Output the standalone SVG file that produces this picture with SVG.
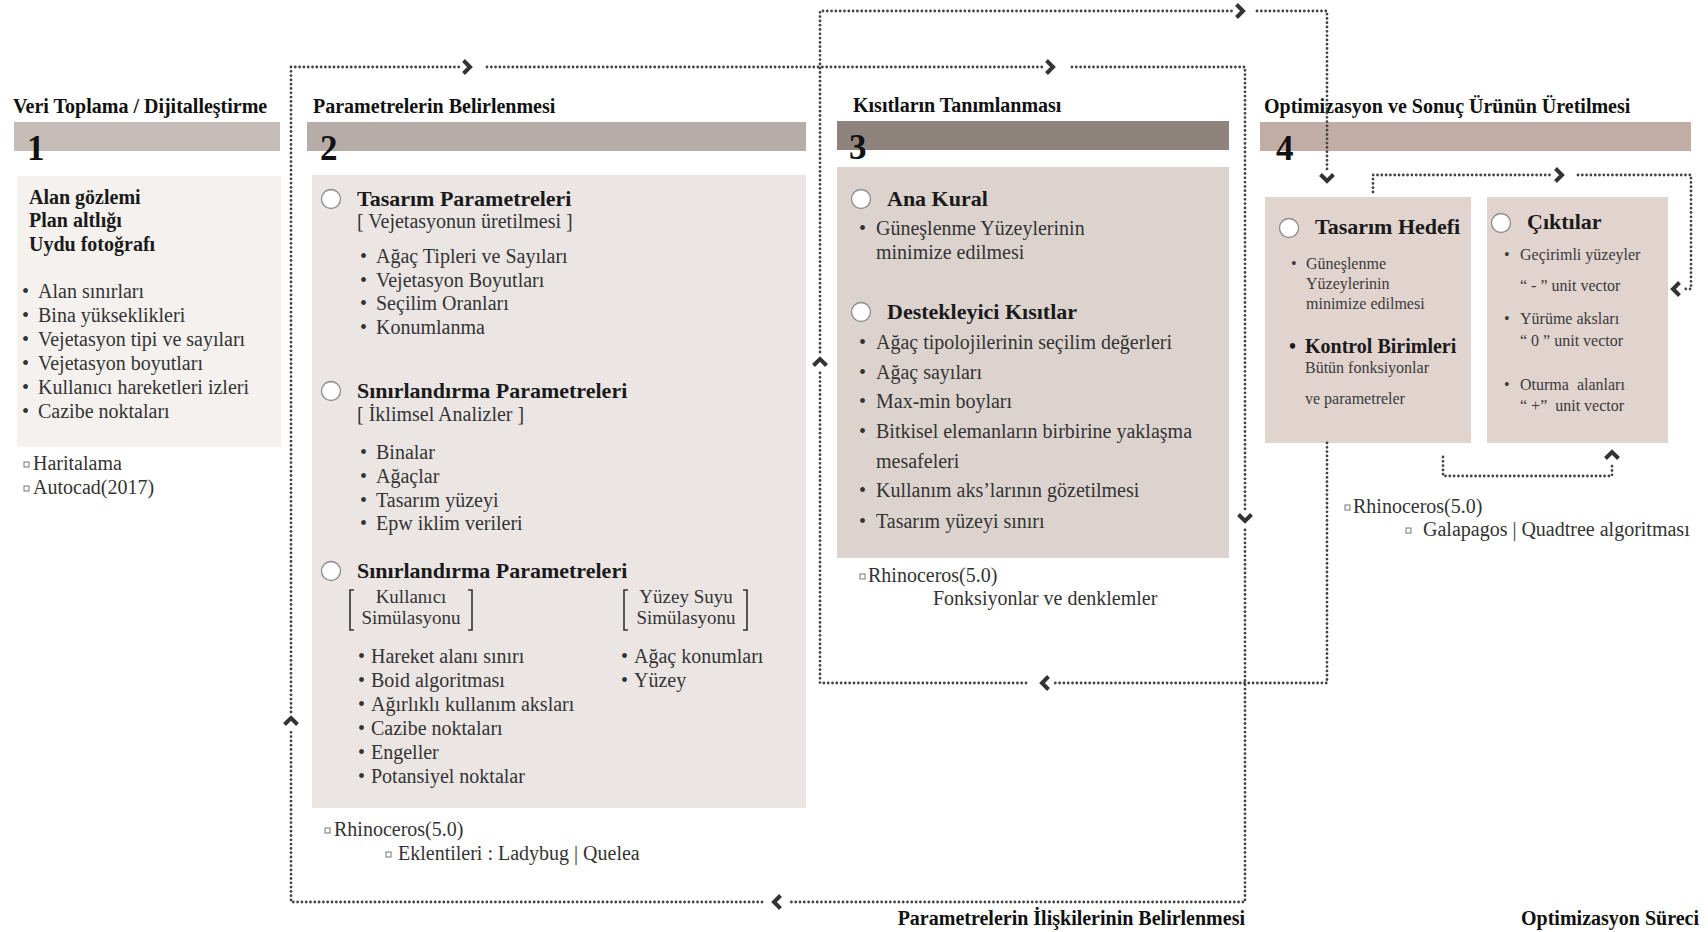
<svg xmlns="http://www.w3.org/2000/svg" xmlns:xlink="http://www.w3.org/1999/xlink" width="1708" height="932" viewBox="0 0 1708 932">
  <style>
    text { font-family: "Liberation Serif", "Times New Roman", serif; fill: #333; }
    .stage { font-size: 20px; font-weight: bold; fill: #111; }
    .num { font-size: 35px; font-weight: bold; fill: #111; }
    .head { font-size: 22px; font-weight: bold; fill: #1a1a1a; }
    .b20 { font-size: 20px; font-weight: bold; fill: #1a1a1a; }
    .t20 { font-size: 20px; }
    .t19 { font-size: 19px; }
    .t16 { font-size: 16px; fill: #3a3a3a; }
    .pre { white-space: pre; }
    .mid { text-anchor: middle; }
    .dot { fill: none; stroke: #444; stroke-width: 2.8; stroke-dasharray: 0 4.3; stroke-linecap: round; stroke-linejoin: round; }
    .chev { fill: none; stroke: #333; stroke-width: 4; stroke-linecap: butt; stroke-linejoin: miter; }
    .ring { fill: #fff; stroke: #8c8c8c; stroke-width: 1.3; }
    .sq { fill: #fff; stroke: #777; stroke-width: 1; }
    .brk { fill: none; stroke: #333; stroke-width: 1.6; }
  </style>
  <defs>
    <!-- chevron arrowhead, tip at the origin, pointing along +x -->
    <path id="chev" class="chev" d="M-6.5,-6.5 L0,0 L-6.5,6.5"/>
  </defs>

  <rect width="1708" height="932" fill="#fff"/>

  <!-- Stage 1 -->
  <g id="stage1">
    <text class="stage" x="13" y="113">Veri Toplama / Dijitalleştirme</text>
    <rect x="14" y="122" width="266" height="29" fill="#c6bcb8"/>
    <text class="num" x="27" y="160">1</text>
    <rect x="17" y="176" width="264" height="271" fill="#f4f1ef"/>
    <text class="b20" x="29" y="204">Alan gözlemi</text>
    <text class="b20" x="29" y="227">Plan altlığı</text>
    <text class="b20" x="29" y="251">Uydu fotoğrafı</text>
    <text class="t20" x="22" y="298">•</text><text class="t20" x="38" y="298">Alan sınırları</text>
    <text class="t20" x="22" y="322">•</text><text class="t20" x="38" y="322">Bina yükseklikleri</text>
    <text class="t20" x="22" y="346">•</text><text class="t20" x="38" y="346">Vejetasyon tipi ve sayıları</text>
    <text class="t20" x="22" y="370">•</text><text class="t20" x="38" y="370">Vejetasyon boyutları</text>
    <text class="t20" x="22" y="394">•</text><text class="t20" x="38" y="394">Kullanıcı hareketleri izleri</text>
    <text class="t20" x="22" y="418">•</text><text class="t20" x="38" y="418">Cazibe noktaları</text>
    <rect class="sq" x="24" y="462" width="5" height="5"/>
    <text class="t20" x="33" y="470">Haritalama</text>
    <rect class="sq" x="24" y="486" width="5" height="5"/>
    <text class="t20" x="33" y="494">Autocad(2017)</text>
  </g>

  <!-- Stage 2 -->
  <g id="stage2">
    <text class="stage" x="313" y="113">Parametrelerin Belirlenmesi</text>
    <rect x="307" y="122" width="499" height="29" fill="#b6ada8"/>
    <text class="num" x="320" y="160">2</text>
    <rect x="312" y="175" width="494" height="633" fill="#ebe6e4"/>

    <circle class="ring" cx="331" cy="199" r="9.5"/>
    <text class="head" x="357" y="206">Tasarım Parametreleri</text>
    <text class="t20" x="357" y="228">[ Vejetasyonun üretilmesi ]</text>
    <text class="t20" x="360" y="263">•</text><text class="t20" x="376" y="263">Ağaç Tipleri ve Sayıları</text>
    <text class="t20" x="360" y="287">•</text><text class="t20" x="376" y="287">Vejetasyon Boyutları</text>
    <text class="t20" x="360" y="310">•</text><text class="t20" x="376" y="310">Seçilim Oranları</text>
    <text class="t20" x="360" y="334">•</text><text class="t20" x="376" y="334">Konumlanma</text>

    <circle class="ring" cx="331" cy="391" r="9.5"/>
    <text class="head" x="357" y="398">Sınırlandırma Parametreleri</text>
    <text class="t20" x="357" y="421">[ İklimsel Analizler ]</text>
    <text class="t20" x="360" y="459">•</text><text class="t20" x="376" y="459">Binalar</text>
    <text class="t20" x="360" y="483">•</text><text class="t20" x="376" y="483">Ağaçlar</text>
    <text class="t20" x="360" y="507">•</text><text class="t20" x="376" y="507">Tasarım yüzeyi</text>
    <text class="t20" x="360" y="530">•</text><text class="t20" x="376" y="530">Epw iklim verileri</text>

    <circle class="ring" cx="331" cy="571" r="9.5"/>
    <text class="head" x="357" y="578">Sınırlandırma Parametreleri</text>
    <path class="brk" d="M354,590 H350 V630 H354 M468,590 H472 V630 H468"/>
    <text class="t19 mid" x="411" y="603">Kullanıcı</text>
    <text class="t19 mid" x="411" y="624">Simülasyonu</text>
    <path class="brk" d="M628,590 H624 V630 H628 M743,590 H747 V630 H743"/>
    <text class="t19 mid" x="686" y="603">Yüzey Suyu</text>
    <text class="t19 mid" x="686" y="624">Simülasyonu</text>

    <text class="t20" x="358" y="663">•</text><text class="t20" x="371" y="663">Hareket alanı sınırı</text>
    <text class="t20" x="358" y="687">•</text><text class="t20" x="371" y="687">Boid algoritması</text>
    <text class="t20" x="358" y="711">•</text><text class="t20" x="371" y="711">Ağırlıklı kullanım aksları</text>
    <text class="t20" x="358" y="735">•</text><text class="t20" x="371" y="735">Cazibe noktaları</text>
    <text class="t20" x="358" y="759">•</text><text class="t20" x="371" y="759">Engeller</text>
    <text class="t20" x="358" y="783">•</text><text class="t20" x="371" y="783">Potansiyel noktalar</text>
    <text class="t20" x="621" y="663">•</text><text class="t20" x="634" y="663">Ağaç konumları</text>
    <text class="t20" x="621" y="687">•</text><text class="t20" x="634" y="687">Yüzey</text>

    <rect class="sq" x="325" y="828" width="5" height="5"/>
    <text class="t20" x="334" y="836">Rhinoceros(5.0)</text>
    <rect class="sq" x="386" y="852" width="5" height="5"/>
    <text class="t20" x="398" y="860">Eklentileri : Ladybug | Quelea</text>
  </g>

  <!-- Stage 3 -->
  <g id="stage3">
    <text class="stage" x="853" y="112">Kısıtların Tanımlanması</text>
    <rect x="837" y="121" width="392" height="29" fill="#8f837d"/>
    <text class="num" x="849" y="159">3</text>
    <rect x="837" y="167" width="392" height="391" fill="#dcd3cf"/>

    <circle class="ring" cx="861" cy="199" r="9.5"/>
    <text class="head" x="887" y="206">Ana Kural</text>
    <text class="t20" x="859" y="235">•</text><text class="t20" x="876" y="235">Güneşlenme Yüzeylerinin</text>
    <text class="t20" x="876" y="259">minimize edilmesi</text>

    <circle class="ring" cx="861" cy="312" r="9.5"/>
    <text class="head" x="887" y="319">Destekleyici Kısıtlar</text>
    <text class="t20" x="859" y="349">•</text><text class="t20" x="876" y="349">Ağaç tipolojilerinin seçilim değerleri</text>
    <text class="t20" x="859" y="379">•</text><text class="t20" x="876" y="379">Ağaç sayıları</text>
    <text class="t20" x="859" y="408">•</text><text class="t20" x="876" y="408">Max-min boyları</text>
    <text class="t20" x="859" y="438">•</text><text class="t20" x="876" y="438">Bitkisel elemanların birbirine yaklaşma</text>
    <text class="t20" x="876" y="468">mesafeleri</text>
    <text class="t20" x="859" y="497">•</text><text class="t20" x="876" y="497">Kullanım aks’larının gözetilmesi</text>
    <text class="t20" x="859" y="528">•</text><text class="t20" x="876" y="528">Tasarım yüzeyi sınırı</text>

    <rect class="sq" x="860" y="574" width="5" height="5"/>
    <text class="t20" x="868" y="582">Rhinoceros(5.0)</text>
    <text class="t20" x="933" y="605">Fonksiyonlar ve denklemler</text>
  </g>

  <!-- Stage 4 -->
  <g id="stage4">
    <text class="stage" x="1264" y="113">Optimizasyon ve Sonuç Ürünün Üretilmesi</text>
    <rect x="1260" y="122" width="431" height="29" fill="#c2aca6"/>
    <text class="num" x="1276" y="160">4</text>
  </g>

  <g id="goal">
    <rect x="1265" y="197" width="206" height="246" fill="#e1d3ce"/>
    <circle class="ring" cx="1289" cy="228" r="9.5"/>
    <text class="head" x="1315" y="234">Tasarım Hedefi</text>
    <text class="t16" x="1291" y="269">•</text>
    <text class="t16" x="1306" y="269">Güneşlenme</text>
    <text class="t16" x="1306" y="289">Yüzeylerinin</text>
    <text class="t16" x="1306" y="309">minimize edilmesi</text>
    <text class="b20" x="1289" y="353">•</text>
    <text class="b20" x="1305" y="353">Kontrol Birimleri</text>
    <text class="t16" x="1305" y="373">Bütün fonksiyonlar</text>
    <text class="t16" x="1305" y="404">ve parametreler</text>
  </g>

  <g id="outputs">
    <rect x="1487" y="197" width="181" height="246" fill="#e1d3ce"/>
    <circle class="ring" cx="1501" cy="223" r="9.5"/>
    <text class="head" x="1527" y="229">Çıktılar</text>
    <text class="t16" x="1504" y="260">•</text>
    <text class="t16" x="1520" y="260">Geçirimli yüzeyler</text>
    <text class="t16 pre" x="1520" y="291">“ - ” unit vector</text>
    <text class="t16" x="1504" y="324">•</text>
    <text class="t16" x="1520" y="324">Yürüme aksları</text>
    <text class="t16 pre" x="1520" y="346">“ 0 ” unit vector</text>
    <text class="t16" x="1504" y="390">•</text>
    <text class="t16 pre" x="1520" y="390">Oturma  alanları</text>
    <text class="t16 pre" x="1520" y="411">“ +”  unit vector</text>
  </g>

  <g id="tools4">
    <rect class="sq" x="1345" y="505" width="5" height="5"/>
    <text class="t20" x="1353" y="513">Rhinoceros(5.0)</text>
    <rect class="sq" x="1406" y="528" width="5" height="5"/>
    <text class="t20" x="1423" y="536">Galapagos | Quadtree algoritması</text>
  </g>

  <g id="labels">
    <text class="stage" x="1245" y="925" text-anchor="end">Parametrelerin İlişkilerinin Belirlenmesi</text>
    <text class="stage" x="1699" y="925" text-anchor="end">Optimizasyon Süreci</text>
  </g>

  <!-- feedback loops -->
  <g id="connectors">
    <!-- parameter relations loop -->
    <path class="dot" d="M291,712 V67 H462"/>
    <path class="dot" d="M487,67 H1045"/>
    <path class="dot" d="M1072,67 H1245 V512"/>
    <path class="dot" d="M1245,530 V902 H788"/>
    <path class="dot" d="M762,902 H291 V728"/>
    <use xlink:href="#chev" transform="translate(470,67)"/>
    <use xlink:href="#chev" transform="translate(1053,67)"/>
    <use xlink:href="#chev" transform="translate(1245,521) rotate(90)"/>
    <use xlink:href="#chev" transform="translate(774,902) rotate(180)"/>
    <use xlink:href="#chev" transform="translate(291,718) rotate(-90)"/>

    <!-- optimisation loop -->
    <path class="dot" d="M820,352 V11 H1234"/>
    <path class="dot" d="M1257,11 H1327 V172"/>
    <path class="dot" d="M1327,443 V683 H1052"/>
    <path class="dot" d="M1026,683 H820 V370"/>
    <use xlink:href="#chev" transform="translate(1243,11)"/>
    <use xlink:href="#chev" transform="translate(1327,181) rotate(90)"/>
    <use xlink:href="#chev" transform="translate(1042,683) rotate(180)"/>
    <use xlink:href="#chev" transform="translate(820,359) rotate(-90)"/>

    <!-- goal to outputs -->
    <path class="dot" d="M1373,192 V175 H1553"/>
    <path class="dot" d="M1578,175 H1691 V289 H1683"/>
    <use xlink:href="#chev" transform="translate(1562,175)"/>
    <use xlink:href="#chev" transform="translate(1673,289) rotate(180)"/>

    <!-- outputs back to goal -->
    <path class="dot" d="M1443,457 V476 H1612 V462"/>
    <use xlink:href="#chev" transform="translate(1612,452) rotate(-90)"/>
  </g>
</svg>
